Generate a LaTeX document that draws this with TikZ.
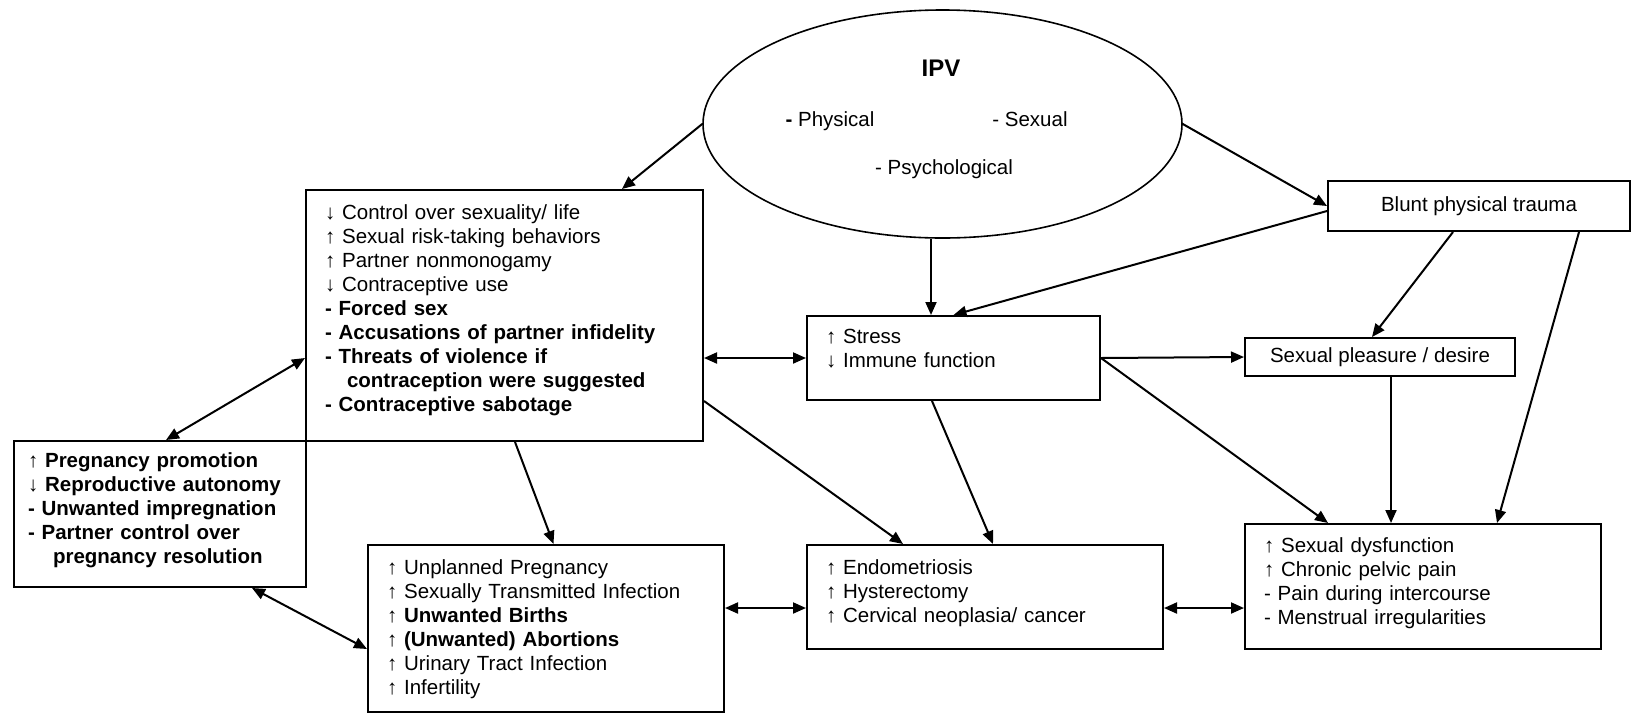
\documentclass[tikz,border=0pt]{standalone}
\usepackage{fontspec}
\setmainfont{Liberation Sans}
\usetikzlibrary{shapes.geometric,arrows.meta}

\begin{document}
\begin{tikzpicture}[
    x=0.5pt, y=-0.5pt,
    font=\fontsize{10.25}{12}\selectfont,
    >={Triangle[length=6.5pt,width=5.5pt]},
    frame/.style={draw, line width=1pt, anchor=north west, align=left, inner xsep=9.5pt, inner ysep=0pt},
    plain/.style={draw, line width=1pt, inner sep=0pt},
    link/.style={->, line width=1pt},
    both/.style={<->, line width=1pt}
    ]
    \useasboundingbox (0,0) rectangle (1632,713);

    % IPV
    \node[ellipse, draw, line width=0.8pt, minimum width=239.5pt, minimum height=114pt] (ipv) at (942.5,124) {};
    \node[anchor=base, font=\fontsize{12}{14}\selectfont\bfseries] (ipvname) at (941,76) {IPV};
    \node[anchor=base] (phys) at (830,126) {\textbf{-} Physical};
    \node[anchor=base] (sexual) at (1030,126) {- Sexual};
    \node[anchor=base] (psych) at (944,174) {- Psychological};

    % boxes
    \node[frame, text width=179.5pt, text height=14.85pt, text depth=110.65pt] (ctrl) at (305,189) {%
        ↓ Control over sexuality/ life\\
        ↑ Sexual risk-taking behaviors\\
        ↑ Partner nonmonogamy\\
        ↓ Contraceptive use\\
        \textbf{- Forced sex}\\
        \textbf{- Accusations of partner infidelity}\\
        \textbf{- Threats of violence if}\\
        \hspace*{11pt}\textbf{contraception were suggested}\\
        \textbf{- Contraceptive sabotage}};
    \node[frame, inner xsep=7pt, text width=132pt, text height=13.35pt, text depth=59.65pt] (preg) at (13,440) {%
        \textbf{↑ Pregnancy promotion}\\
        \textbf{↓ Reproductive autonomy}\\
        \textbf{- Unwanted impregnation}\\
        \textbf{- Partner control over}\\
        \hspace*{12.5pt}\textbf{pregnancy resolution}};
    \node[frame, text width=159pt, text height=14.5pt, text depth=69pt] (outc) at (367,544) {%
        ↑ Unplanned Pregnancy\\
        ↑ Sexually Transmitted Infection\\
        ↑ \textbf{Unwanted Births}\\
        ↑ \textbf{(Unwanted) Abortions}\\
        ↑ Urinary Tract Infection\\
        ↑ Infertility};
    \node[frame, text width=127.5pt, text height=13.85pt, text depth=28.15pt] (stress) at (806,315) {%
        ↑ Stress\\
        ↓ Immune function};
    \node[frame, text width=159pt, text height=14.5pt, text depth=37.5pt] (endo) at (806,544) {%
        ↑ Endometriosis\\
        ↑ Hysterectomy\\
        ↑ Cervical neoplasia/ cancer};
    \node[frame, text width=159pt, text height=14.35pt, text depth=48.15pt] (dysf) at (1244,523) {%
        ↑ Sexual dysfunction\\
        ↑ Chronic pelvic pain\\
        - Pain during intercourse\\
        - Menstrual irregularities};
    \node[plain, minimum width=151pt, minimum height=25pt] (blunt) at (1479,206) {Blunt physical trauma};
    \node[plain, minimum width=135pt, minimum height=19pt] (pleas) at (1380,357) {Sexual pleasure / desire};

    % arrows
    \coordinate (ipvfoot) at ([xshift=-5.75pt]ipv.south);
    \coordinate (pleasfoot) at ([xshift=5.5pt]pleas.south);
    \coordinate (endoleft) at ([yshift=-5.5pt]endo.west);
    \coordinate (endoright) at ([yshift=-5.5pt]endo.east);

    \draw[link] (ipv.west) -- ([xshift=-41pt]ctrl.north east);
    \draw[link] (ipv.east) -- (blunt.west);
    \draw[link] (ipvfoot) -- (ipvfoot |- stress.north);
    \draw[link] ([yshift=-2.5pt]blunt.west) -- (stress.north);
    \draw[both] (ctrl.east |- stress.west) -- (stress.west);
    \draw[link] (stress.east) -- (pleas.west);
    \draw[link] ([xshift=-13pt]blunt.south) -- ([xshift=-4pt]pleas.north);
    \draw[link] ([xshift=-26pt]blunt.south east) -- ([xshift=37pt]dysf.north);
    \draw[link] (pleasfoot) -- (pleasfoot |- dysf.north);
    \draw[link] (stress.east) -- ([xshift=42pt]dysf.north west);
    \draw[link] ([xshift=-10.75pt]stress.south) -- ([xshift=4pt]endo.north);
    \draw[link] (ctrl.east |- stress.south) -- ([xshift=48.5pt]endo.north west);
    \draw[link] ([xshift=5.25pt]ctrl.south) -- ([xshift=3.75pt]outc.north);
    \draw[both] ([xshift=3pt]preg.north) -- (ctrl.west |- stress.west);
    \draw[both] ([xshift=-27.5pt]preg.south east) -- ([yshift=-10.25pt]outc.west);
    \draw[both] (endoleft -| outc.east) -- (endoleft);
    \draw[both] (endoright) -- (endoright -| dysf.west);
\end{tikzpicture}
\end{document}
